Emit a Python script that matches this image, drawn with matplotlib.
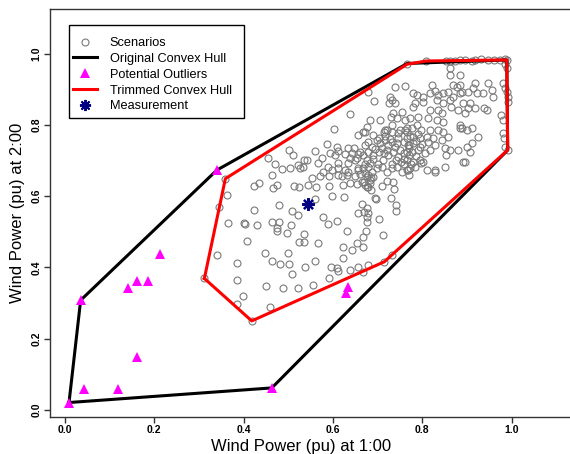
import matplotlib
matplotlib.use("Agg")
import matplotlib.pyplot as plt
from matplotlib.lines import Line2D
from matplotlib.patches import Rectangle
import numpy as np

plt.rcParams['font.family'] = ['Liberation Sans', 'DejaVu Sans']

# scenario points (wind power at 1:00, wind power at 2:00)
scenarios = [
    (0.424, 0.628), (0.435, 0.636), (0.465, 0.622), (0.474, 0.630), (0.513, 0.628), (0.524, 0.625),
    (0.363, 0.602), (0.345, 0.569), (0.479, 0.575), (0.422, 0.560), (0.508, 0.558), (0.522, 0.547),
    (0.364, 0.524), (0.400, 0.525), (0.403, 0.521), (0.429, 0.519), (0.464, 0.528), (0.480, 0.528),
    (0.475, 0.510), (0.475, 0.503), (0.505, 0.519), (0.498, 0.497), (0.534, 0.493), (0.407, 0.474),
    (0.524, 0.470), (0.535, 0.470), (0.340, 0.436), (0.448, 0.440), (0.500, 0.441), (0.386, 0.411),
    (0.463, 0.417), (0.481, 0.409), (0.502, 0.410), (0.509, 0.381), (0.386, 0.366), (0.312, 0.369),
    (0.451, 0.349), (0.488, 0.343), (0.521, 0.343), (0.399, 0.320), (0.384, 0.297), (0.460, 0.289),
    (0.537, 0.400), (0.418, 0.250), (0.359, 0.649),
    (0.545, 0.631), (0.563, 0.625), (0.591, 0.628), (0.622, 0.631), (0.637, 0.636), (0.654, 0.634),
    (0.670, 0.640), (0.675, 0.626), (0.683, 0.636), (0.664, 0.640), (0.679, 0.625), (0.686, 0.618),
    (0.734, 0.640), (0.737, 0.619), (0.598, 0.601), (0.625, 0.597), (0.560, 0.591), (0.694, 0.596),
    (0.697, 0.591), (0.730, 0.596), (0.664, 0.577), (0.657, 0.552), (0.675, 0.566), (0.741, 0.575),
    (0.740, 0.559), (0.670, 0.556), (0.679, 0.552), (0.578, 0.542), (0.588, 0.522), (0.608, 0.530),
    (0.675, 0.541), (0.675, 0.527), (0.703, 0.535), (0.631, 0.503), (0.674, 0.503), (0.668, 0.486),
    (0.711, 0.491), (0.567, 0.468), (0.653, 0.469), (0.668, 0.458), (0.642, 0.449), (0.622, 0.456),
    (0.623, 0.427), (0.560, 0.418), (0.595, 0.400), (0.610, 0.397), (0.612, 0.390), (0.637, 0.393),
    (0.657, 0.402), (0.679, 0.407), (0.666, 0.388), (0.714, 0.416), (0.731, 0.436), (0.591, 0.371),
    (0.556, 0.351),
    (0.502, 0.729), (0.511, 0.715), (0.455, 0.706), (0.470, 0.690), (0.485, 0.675), (0.504, 0.678),
    (0.522, 0.687), (0.526, 0.678), (0.532, 0.683), (0.534, 0.701), (0.463, 0.659),
    (0.766, 0.970), (0.739, 0.905), (0.761, 0.910), (0.679, 0.893), (0.692, 0.868), (0.728, 0.879),
    (0.733, 0.870), (0.739, 0.862), (0.725, 0.862), (0.754, 0.837), (0.735, 0.832), (0.730, 0.823),
    (0.743, 0.818), (0.761, 0.813), (0.638, 0.829), (0.705, 0.813), (0.683, 0.813), (0.675, 0.795),
    (0.668, 0.781), (0.657, 0.771), (0.603, 0.788), (0.716, 0.785), (0.733, 0.781), (0.746, 0.776),
    (0.761, 0.785), (0.586, 0.745), (0.560, 0.727), (0.608, 0.739), (0.612, 0.727), (0.604, 0.715),
    (0.634, 0.734), (0.627, 0.718), (0.642, 0.720), (0.649, 0.701), (0.657, 0.718), (0.541, 0.701),
    (0.567, 0.694), (0.589, 0.683), (0.597, 0.673), (0.612, 0.678), (0.627, 0.673), (0.619, 0.656),
    (0.591, 0.656), (0.571, 0.656), (0.657, 0.678), (0.649, 0.656), (0.660, 0.662),
    (0.593, 0.720), (0.575, 0.706), (0.612, 0.692), (0.634, 0.692), (0.631, 0.659), (0.612, 0.659),
    (0.578, 0.668), (0.552, 0.650),
    (0.731, 0.800), (0.672, 0.781), (0.690, 0.772), (0.698, 0.758), (0.713, 0.781), (0.720, 0.786),
    (0.750, 0.786), (0.765, 0.791), (0.646, 0.734), (0.661, 0.725), (0.672, 0.744), (0.679, 0.753),
    (0.687, 0.739), (0.702, 0.762), (0.705, 0.748), (0.717, 0.758), (0.724, 0.744), (0.731, 0.753),
    (0.739, 0.739), (0.746, 0.762), (0.758, 0.753), (0.769, 0.744),
    (0.638, 0.706), (0.653, 0.706), (0.668, 0.716), (0.679, 0.725), (0.690, 0.716), (0.702, 0.725),
    (0.713, 0.720), (0.724, 0.716), (0.735, 0.725), (0.746, 0.711), (0.758, 0.720), (0.769, 0.716),
    (0.657, 0.674), (0.668, 0.678), (0.679, 0.683), (0.687, 0.669), (0.698, 0.678), (0.709, 0.683),
    (0.720, 0.669), (0.731, 0.678), (0.743, 0.683), (0.754, 0.669), (0.765, 0.674),
    (0.675, 0.655), (0.690, 0.655), (0.634, 0.669), (0.769, 0.660), (0.709, 0.627), (0.720, 0.641),
    (0.672, 0.632), (0.683, 0.645),
    (0.675, 0.700), (0.683, 0.692), (0.672, 0.690), (0.690, 0.705), (0.679, 0.660), (0.686, 0.650),
    (0.672, 0.664), (0.694, 0.733), (0.709, 0.736), (0.720, 0.730), (0.743, 0.748), (0.750, 0.730),
    (0.728, 0.760), (0.716, 0.770), (0.700, 0.690), (0.712, 0.700), (0.740, 0.700), (0.752, 0.695),
    (0.760, 0.705), (0.732, 0.690),
    (0.780, 0.851), (0.817, 0.842), (0.836, 0.842), (0.843, 0.833), (0.865, 0.851), (0.880, 0.842),
    (0.895, 0.833), (0.903, 0.847), (0.772, 0.819), (0.791, 0.823), (0.813, 0.819), (0.832, 0.814),
    (0.847, 0.809), (0.884, 0.800), (0.899, 0.786), (0.884, 0.791), (0.765, 0.781), (0.776, 0.791),
    (0.787, 0.800), (0.798, 0.786), (0.817, 0.786), (0.836, 0.786), (0.847, 0.781), (0.765, 0.762),
    (0.780, 0.767), (0.795, 0.762), (0.810, 0.767), (0.824, 0.762), (0.843, 0.758), (0.858, 0.767),
    (0.768, 0.744), (0.780, 0.748), (0.795, 0.739), (0.813, 0.753), (0.828, 0.744), (0.765, 0.725),
    (0.776, 0.725), (0.791, 0.730), (0.806, 0.720), (0.817, 0.730), (0.850, 0.734), (0.862, 0.730),
    (0.880, 0.730), (0.854, 0.716), (0.765, 0.702), (0.780, 0.697), (0.795, 0.702), (0.798, 0.692),
    (0.772, 0.678), (0.768, 0.674), (0.810, 0.674), (0.828, 0.674), (0.850, 0.683), (0.895, 0.697),
    (0.772, 0.770), (0.785, 0.755), (0.770, 0.735), (0.785, 0.712), (0.775, 0.690), (0.790, 0.775),
    (0.800, 0.745), (0.760, 0.690), (0.783, 0.683),
    (0.918, 0.846), (0.925, 0.767), (0.910, 0.790), (0.888, 0.790), (0.899, 0.739), (0.907, 0.725),
    (0.892, 0.695), (0.828, 0.668), (0.802, 0.695), (0.938, 0.846), (0.959, 0.879), (0.948, 0.916),
    (0.888, 0.893), (0.869, 0.912), (0.910, 0.748),
    (0.809, 0.979), (0.854, 0.980), (0.862, 0.978), (0.873, 0.980), (0.884, 0.981), (0.895, 0.982),
    (0.910, 0.980), (0.918, 0.981), (0.932, 0.984), (0.947, 0.982), (0.960, 0.983), (0.974, 0.983),
    (0.985, 0.984), (0.989, 0.982),
    (0.862, 0.958), (0.862, 0.940), (0.884, 0.940), (0.985, 0.970), (0.990, 0.960),
    (0.821, 0.912), (0.877, 0.907), (0.884, 0.912), (0.918, 0.916), (0.981, 0.916), (0.985, 0.902),
    (0.989, 0.893), (0.992, 0.879), (0.992, 0.865),
    (0.780, 0.890), (0.787, 0.884), (0.802, 0.879), (0.817, 0.888), (0.828, 0.896), (0.836, 0.884),
    (0.847, 0.888), (0.858, 0.893), (0.869, 0.879), (0.884, 0.888), (0.903, 0.893), (0.914, 0.903),
    (0.922, 0.888), (0.936, 0.888), (0.955, 0.898),
    (0.784, 0.860), (0.802, 0.865), (0.832, 0.870), (0.847, 0.860), (0.862, 0.870), (0.892, 0.860),
    (0.907, 0.860),
    (0.944, 0.842), (0.977, 0.827), (0.981, 0.813), (0.980, 0.776), (0.983, 0.762), (0.985, 0.739),
    (0.991, 0.729),
]

# potential outliers
out_x = [0.009, 0.035, 0.043, 0.118, 0.142, 0.161, 0.185, 0.213, 0.161, 0.463, 0.340, 0.633, 0.629]
out_y = [0.021, 0.308, 0.060, 0.060, 0.341, 0.363, 0.361, 0.437, 0.148, 0.062, 0.673, 0.345, 0.328]

# hull vertices (closed)
orig_hull_x = [0.009, 0.035, 0.340, 0.766, 0.989, 0.991, 0.463, 0.009]
orig_hull_y = [0.021, 0.308, 0.673, 0.972, 0.982, 0.729, 0.062, 0.021]
trim_hull_x = [0.312, 0.359, 0.766, 0.809, 0.989, 0.991, 0.715, 0.418, 0.312]
trim_hull_y = [0.369, 0.649, 0.970, 0.979, 0.982, 0.729, 0.416, 0.250, 0.369]

meas_x, meas_y = 0.545, 0.578

ticks = [0.0, 0.2, 0.4, 0.6, 0.8, 1.0]
tick_labels = ['0.0', '0.2', '0.4', '0.6', '0.8', '1.0']

sx = np.array([p[0] for p in scenarios])
sy = np.array([p[1] for p in scenarios])

W, H = 570, 454
fig = plt.figure(figsize=(W / 100, H / 100), dpi=100)
ax = fig.add_axes([50 / W, 1 - 417 / H, 1 - 50 / W, (417 - 9.3) / H])

gray = '#7a7a7a'
ax.plot(sx, sy, 'o', mfc='none', mec=gray, ms=5.0, mew=0.8, zorder=2)
ax.plot(orig_hull_x, orig_hull_y, color='black', lw=2.2, zorder=3)
ax.plot(trim_hull_x, trim_hull_y, color='#ff0000', lw=2.2, zorder=4)
ax.plot(out_x, out_y, '^', color='#ff00ff', ms=6.5, mew=0, zorder=5)
ax.plot([meas_x], [meas_y], marker=(8, 2, 0), color='#000080', ms=9, mew=1.6,
        ls='none', zorder=6)

ax.set_xlim(-0.0336, 1.1305)
ax.set_ylim(-0.0196, 1.124)

for s in ['left', 'bottom', 'top']:
    ax.spines[s].set_color('#333333')
    ax.spines[s].set_linewidth(1.0)
ax.spines['right'].set_visible(False)

ax.set_xticks(ticks)
ax.set_xticklabels(tick_labels, fontsize=7.5, fontweight='bold')
ax.set_yticks(ticks)
ax.set_yticklabels(tick_labels, fontsize=7.5, fontweight='bold', rotation=90, va='center')
ax.tick_params(direction='out', length=4.5, width=1, color='#333333', pad=1.5)

ax.set_xlabel('Wind Power (pu) at 1:00', fontsize=12, labelpad=1)
ax.xaxis.set_label_coords(0.483, -0.055)
ax.set_ylabel('Wind Power (pu) at 2:00', fontsize=12, labelpad=5)

# legend: entries without frame, box drawn separately (R style)
handles = [
    Line2D([], [], ls='none', marker='o', mfc='none', mec=gray, ms=5.0, mew=0.8),
    Line2D([], [], color='black', lw=2.2),
    Line2D([], [], ls='none', marker='^', color='#ff00ff', ms=6.5, mew=0),
    Line2D([], [], color='#ff0000', lw=2.2),
    Line2D([], [], ls='none', marker=(8, 2, 0), color='#000080', ms=8, mew=1.4),
]
labels = ['Scenarios', 'Original Convex Hull', 'Potential Outliers',
          'Trimmed Convex Hull', 'Measurement']
leg = ax.legend(handles, labels, loc='upper left',
                bbox_to_anchor=(72.7 / W, 1 - 37 / H), bbox_transform=fig.transFigure,
                fontsize=9.2, frameon=False, borderaxespad=0, borderpad=0,
                labelspacing=0.3, handlelength=1.9, handletextpad=1.0)
leg.set_zorder(10)
box = Rectangle((69 / W, 1 - 118 / H), (244 - 69) / W, (118 - 25) / H,
                transform=fig.transFigure, facecolor='white', edgecolor='black',
                lw=1.0, zorder=9, clip_on=False)
ax.add_patch(box)

fig.savefig('out.png', dpi=100)
